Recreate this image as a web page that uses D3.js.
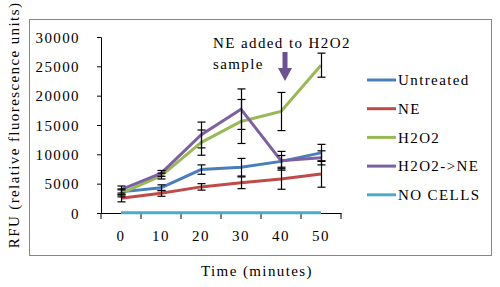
<!DOCTYPE html>
<html>
<head>
<meta charset="utf-8">
<script src="https://cdn.jsdelivr.net/npm/d3@7"></script>
<style>
  body { margin: 0; background: #fff; }
  text { font-family: "Liberation Serif", serif; font-size: 15px; letter-spacing: 1.4px; fill: #000; }
</style>
</head>
<body>
<div id="chart"></div>
<script>
const times = ["0", "10", "20", "30", "40", "50"];
const yTicks = [0, 5000, 10000, 15000, 20000, 25000, 30000];

const seriesNames = ["Untreated", "NE", "H2O2", "H2O2->NE", "NO CELLS"];
const seriesColors = ["#4a7ebb", "#be4b48", "#98b954", "#7d60a0", "#4bacc6"];

const untreated = [3600, 4300, 7400, 7800, 8800, 10250];
const ne = [2500, 3350, 4450, 5150, 5800, 6650];
const h2o2 = [3350, 6300, 12000, 15600, 17300, 25200];
const h2o2ne = [4000, 6750, 13300, 17700, 8900, 9400];
const noCells = [50, 50, 50, 50, 50, 50];

const untreatedErr = [500, 500, 800, 1500, 1000, 1450];
const neErr = [600, 500, 550, 1000, 1750, 2250];
const h2o2Err = [600, 500, 2150, 3750, 3250, 2050];
const h2o2neErr = [600, 500, 2200, 3450, 1600, 1200];
const noCellsErr = [0, 0, 0, 0, 0, 0];

const allValues = [untreated, ne, h2o2, h2o2ne, noCells];
const allErrors = [untreatedErr, neErr, h2o2Err, h2o2neErr, noCellsErr];

const W = 500, H = 287;
const svg = d3.select("#chart").append("svg")
  .attr("width", W).attr("height", H);

// grey frame round the chart
svg.append("rect")
  .attr("x", 29.5).attr("y", 19.5)
  .attr("width", 462).attr("height", 236)
  .attr("fill", "none").attr("stroke", "#868686").attr("stroke-width", 1);

const x = d3.scaleBand().domain(times).range([101, 341]);
const y = d3.scaleLinear().domain([0, 30000]).range([213, 37]);

// y axis
const yAxis = svg.append("g")
  .attr("transform", "translate(101,0)")
  .call(d3.axisLeft(y).tickValues(yTicks).tickSize(4).tickPadding(17).tickFormat(d3.format("d")));
yAxis.select(".domain").attr("stroke", "#000");
yAxis.selectAll("text").style("font-family", "Liberation Serif").style("font-size", "15px").attr("dy", "0.35em");

// x axis
const xAxis = svg.append("g")
  .attr("transform", "translate(0,213)")
  .call(d3.axisBottom(x).tickSize(0).tickPadding(17));
xAxis.select(".domain").attr("stroke", "#000");
xAxis.selectAll("text").style("font-family", "Liberation Serif").style("font-size", "15px");
// tick marks on the category boundaries
svg.append("g").selectAll("line")
  .data(times.concat(["end"]))
  .enter().append("line")
  .attr("x1", (d, i) => 101 + i * x.step()).attr("x2", (d, i) => 101 + i * x.step())
  .attr("y1", 213).attr("y2", 219)
  .attr("stroke", "#000");

// axis titles
svg.append("text")
  .attr("x", 257).attr("y", 276)
  .attr("text-anchor", "middle")
  .text("Time (minutes)");
svg.append("text")
  .attr("transform", "rotate(-90)")
  .attr("x", -125).attr("y", 19)
  .attr("text-anchor", "middle")
  .text("RFU (relative fluorescence units)");

const cx = d => x(d) + x.bandwidth() / 2;

// lines
const line = d3.line().x((d, i) => cx(times[i])).y(d => y(d));
allValues.forEach((vals, s) => {
  svg.append("path")
    .datum(vals)
    .attr("d", line)
    .attr("fill", "none")
    .attr("stroke", seriesColors[s])
    .attr("stroke-width", 3);
});

// error bars
allValues.forEach((vals, s) => {
  const errs = allErrors[s];
  const g = svg.append("g").attr("stroke", "#000").attr("stroke-width", 1.2);
  vals.forEach((v, i) => {
    if (!errs[i]) return;
    const px = Math.round(cx(times[i])) + 0.5;
    const y0 = y(v + errs[i]), y1 = y(v - errs[i]);
    g.append("line").attr("x1", px).attr("x2", px).attr("y1", y0).attr("y2", y1);
    g.append("line").attr("x1", px - 4).attr("x2", px + 4).attr("y1", y0).attr("y2", y0);
    g.append("line").attr("x1", px - 4).attr("x2", px + 4).attr("y1", y1).attr("y2", y1);
  });
});

// annotation
svg.append("text").attr("x", 213).attr("y", 48).text("NE added to H2O2");
svg.append("text").attr("x", 213).attr("y", 69).text("sample");
const ax = cx("40") + 4;
svg.append("path")
  .attr("d", `M${ax - 2.5},52 L${ax + 2.5},52 L${ax + 2.5},68 L${ax + 7},68 L${ax},81 L${ax - 7},68 L${ax - 2.5},68 Z`)
  .attr("fill", "#6b5290");

// legend
const legend = svg.append("g");
seriesNames.forEach((name, i) => {
  const ly = 80 + i * 28.7;
  legend.append("line")
    .attr("x1", 367).attr("x2", 396)
    .attr("y1", ly).attr("y2", ly)
    .attr("stroke", seriesColors[i]).attr("stroke-width", 3);
  legend.append("text")
    .attr("x", 398).attr("y", ly).attr("dy", "0.35em")
    .text(name);
});
</script>
</body>
</html>
